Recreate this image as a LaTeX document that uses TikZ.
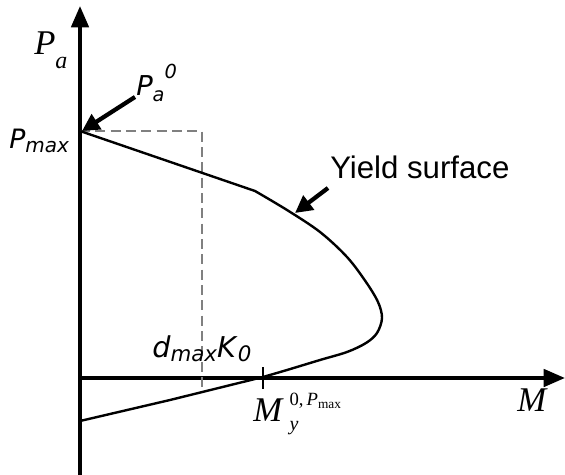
\documentclass[tikz,border=0pt]{standalone}
\usepackage{fontspec}
\setmainfont{Liberation Serif}
\newfontfamily\dvsans{DejaVu Sans}
\newfontfamily\arsans{Liberation Sans}
\usetikzlibrary{calc, positioning}
\usetikzlibrary{arrows.meta}

\tikzset{
  axis/.style={line width=2.8pt, -{Triangle[length=16pt, width=13pt]}},
  pointer/.style={line width=3.2pt, -{Triangle[length=13pt, width=13pt]}},
  lbl/.style={inner sep=0pt, anchor=base west},
}

\begin{document}
\begin{tikzpicture}[x=0.75pt, y=-0.75pt]
\useasboundingbox (0,0) rectangle (565,475);
% axes
\coordinate (O) at (80,378);
\coordinate (ytop) at (80,6);
\coordinate (ybot) at (80,475);
\coordinate (xend) at (565,378);
\draw[axis] (ybot) -- (ytop);
\draw[axis] (O) -- (xend);
% key points
\coordinate (Pm) at (80,131);
\coordinate (My) at (263,378);
\coordinate (Kd) at (202,131);
\draw[line width=1.8pt] ($(My)+(0,-11)$) -- ($(My)+(0,11)$);
\draw[gray, line width=2.2pt, dash pattern=on 7.5pt off 4pt] (Pm) -- (Kd) -- (202,391);
% yield surface
\draw[line width=1.8pt, line join=round]
  (Pm) -- (255,191)
  plot[smooth, tension=0.55] coordinates {(255,191) (287,210) (320,232) (347,257) (366,282) (378,302) (382,318) (377,333) (366,343) (347,352) (320,360) (287,370) (263,377)}
  -- (170,400) -- (80,421);
% labels
\node[lbl] (Pa) at (34,54) {\fontsize{26}{26}\selectfont\textit{P}\raisebox{-0.9ex}{\fontsize{18}{18}\selectfont\textit{a}}};
\node[lbl] (Pmax) at (9,148) {\dvsans\fontsize{20}{20}\selectfont\textit{P}\raisebox{-0.3ex}{\fontsize{15}{15}\selectfont\textit{max}}};
\node[lbl] (Pa0) at (136,95) {\dvsans\fontsize{20.5}{20.5}\selectfont\textit{P}\raisebox{-0.45ex}{\fontsize{14.5}{14.5}\selectfont\textit{a}}\raisebox{1.1ex}{\fontsize{14.5}{14.5}\selectfont\textit{0}}};
\node[lbl] (yield) at (330,178) {\arsans\fontsize{23.4}{23.4}\selectfont Yield surface};
\node[lbl] (dK) at (152,357) {\dvsans\fontsize{21.5}{21.5}\selectfont\textit{d}\raisebox{-0.3ex}{\fontsize{16}{16}\selectfont\textit{max}}\textit{K}\raisebox{-0.3ex}{\fontsize{16}{16}\selectfont\textit{0}}};
\node[lbl] (Mlab) at (517,411) {\fontsize{26}{26}\selectfont\textit{M}};
\node[lbl] (Mylab) at (253,421) {\fontsize{26}{26}\selectfont\textit{M}\,\rlap{\raisebox{1.0ex}{\fontsize{14}{14}\selectfont 0,\,\textit{P}\raisebox{-0.35ex}{\fontsize{10}{10}\selectfont max}}}\raisebox{-0.6ex}{\fontsize{15}{15}\selectfont\textit{y}}};
% pointers
\coordinate (a0) at (135,97);
\coordinate (a1) at (328,188);
\draw[pointer] (a0) -- (82,131);
\draw[pointer] (a1) -- (295,213);
\end{tikzpicture}
\end{document}
